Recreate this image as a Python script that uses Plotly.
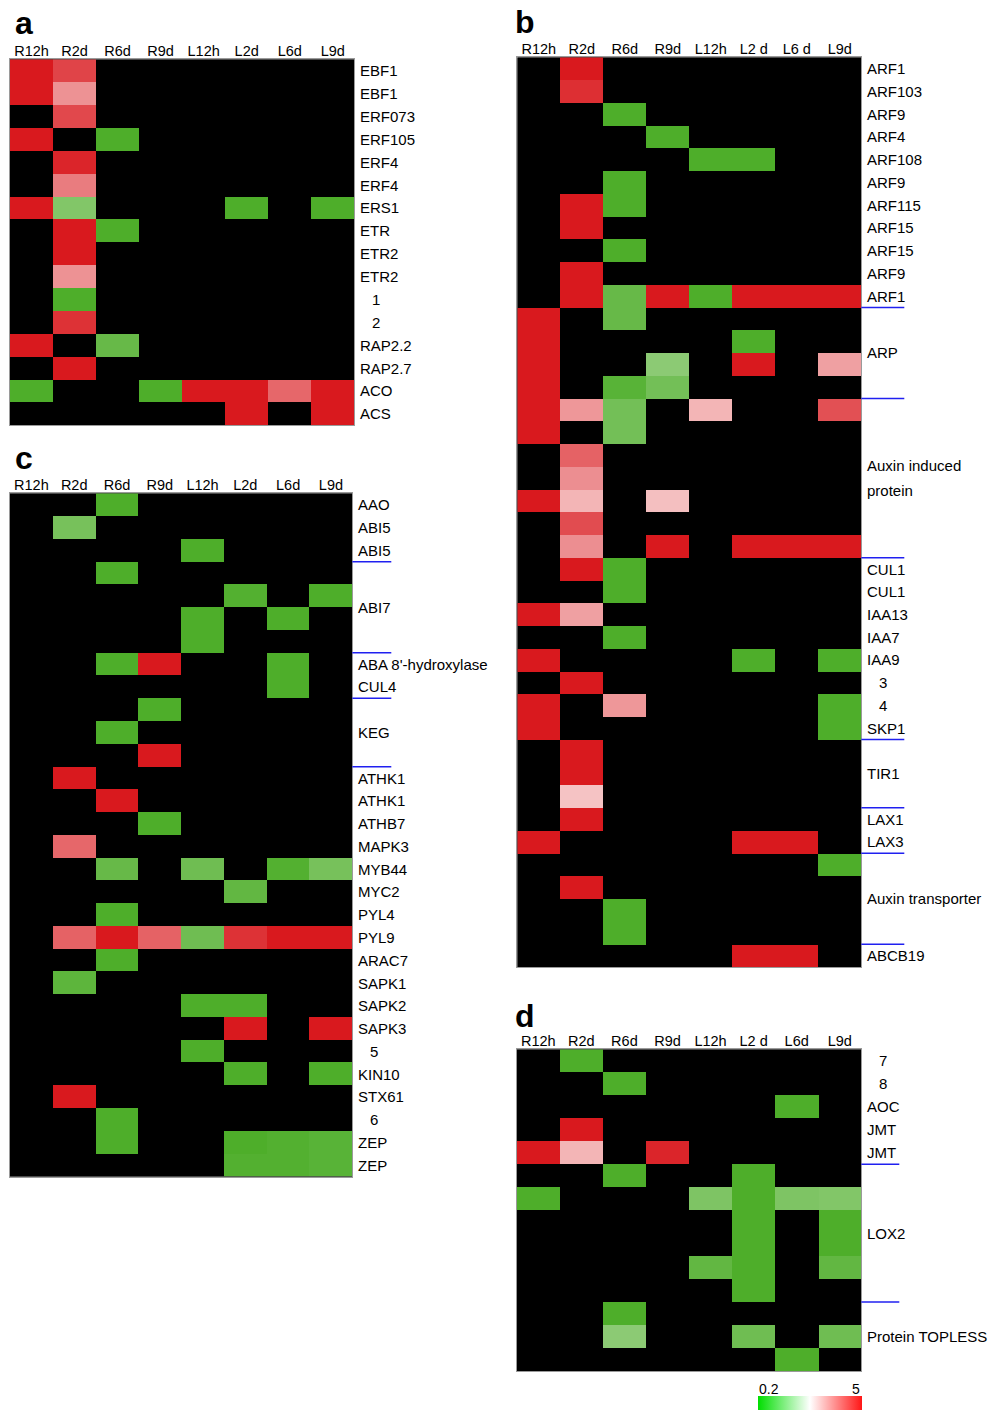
import numpy as np
import plotly.graph_objects as go

N = None  # not significantly changed (drawn black)

time_points = ["R12h", "R2d", "R6d", "R9d", "L12h", "L2d", "L6d", "L9d"]

# ---- a: ethylene pathway ----
a_ticks = ["R12h", "R2d", "R6d", "R9d", "L12h", "L2d", "L6d", "L9d"]
a_genes = ["EBF1", "EBF1", "ERF073", "ERF105", "ERF4", "ERF4", "ERS1", "ETR",
           "ETR2", "ETR2", "1", "2", "RAP2.2", "RAP2.7", "ACO", "ACS"]
a_fold = [
    [5, 3.7, N, N, N, N, N, N],
    [5, 2.15, N, N, N, N, N, N],
    [N, 3.6, N, N, N, N, N, N],
    [5, N, 0.2, N, N, N, N, N],
    [N, 4.6, N, N, N, N, N, N],
    [N, 2.5, N, N, N, N, N, N],
    [5, 0.32, N, N, N, 0.2, N, 0.2],
    [N, 5, 0.2, N, N, N, N, N],
    [N, 5, N, N, N, N, N, N],
    [N, 2.15, N, N, N, N, N, N],
    [N, 0.2, N, N, N, N, N, N],
    [N, 4.2, N, N, N, N, N, N],
    [5, N, 0.25, N, N, N, N, N],
    [N, 5, N, N, N, N, N, N],
    [0.2, N, N, 0.2, 5, 5, 2.9, 5],
    [N, N, N, N, N, 5, N, 5],
]
a_groups = []

# ---- b: auxin pathway ----
b_ticks = ["R12h", "R2d", "R6d", "R9d", "L12h", "L2 d", "L6 d", "L9d"]
b_genes = ["ARF1", "ARF103", "ARF9", "ARF4", "ARF108", "ARF9", "ARF115", "ARF15",
           "ARF15", "ARF9", "ARF1", "", "", "", "", "", "", "", "", "", "", "",
           "CUL1", "CUL1", "IAA13", "IAA7", "IAA9", "3", "4", "SKP1", "", "", "",
           "LAX1", "LAX3", "", "", "", "", "ABCB19"]
b_fold = [
    [N, 5, N, N, N, N, N, N],
    [N, 4.3, N, N, N, N, N, N],
    [N, N, 0.2, N, N, N, N, N],
    [N, N, N, 0.2, N, N, N, N],
    [N, N, N, N, 0.2, 0.2, N, N],
    [N, N, 0.2, N, N, N, N, N],
    [N, 5, 0.2, N, N, N, N, N],
    [N, 5, N, N, N, N, N, N],
    [N, N, 0.2, N, N, N, N, N],
    [N, 5, N, N, N, N, N, N],
    [N, 5, 0.25, 5, 0.2, 5, 5, 5],
    [5, N, 0.25, N, N, N, N, N],
    [5, N, N, N, N, 0.2, N, N],
    [5, N, N, 0.35, N, 5, N, 1.94],
    [5, N, 0.22, 0.28, N, N, N, N],
    [5, 2.07, 0.28, N, 1.68, N, N, 3.4],
    [5, N, 0.28, N, N, N, N, N],
    [N, 3.0, N, N, N, N, N, N],
    [N, 2.2, N, N, N, N, N, N],
    [5, 1.68, N, 1.57, N, N, N, N],
    [N, 3.5, N, N, N, N, N, N],
    [N, 2.2, N, 5, N, 5, 5, 5],
    [N, 5, 0.2, N, N, N, N, N],
    [N, N, 0.2, N, N, N, N, N],
    [5, 1.94, N, N, N, N, N, N],
    [N, N, 0.2, N, N, N, N, N],
    [5, N, N, N, N, 0.2, N, 0.2],
    [N, 5, N, N, N, N, N, N],
    [5, N, 2.07, N, N, N, N, 0.2],
    [5, N, N, N, N, N, N, 0.2],
    [N, 5, N, N, N, N, N, N],
    [N, 5, N, N, N, N, N, N],
    [N, 1.52, N, N, N, N, N, N],
    [N, 5, N, N, N, N, N, N],
    [5, N, N, N, N, 5, 5, N],
    [N, N, N, N, N, N, N, 0.2],
    [N, 5, N, N, N, N, N, N],
    [N, N, 0.2, N, N, N, N, N],
    [N, N, 0.2, N, N, N, N, N],
    [N, N, N, N, N, 5, 5, N],
]
# (label lines, first row, last row)
b_groups = [
    (["ARP"], 11, 14),
    (["Auxin induced", "protein"], 15, 21),
    (["TIR1"], 30, 32),
    (["Auxin transporter"], 35, 38),
]

# ---- c: abscisic acid pathway ----
c_ticks = ["R12h", "R2d", "R6d", "R9d", "L12h", "L2d", "L6d", "L9d"]
c_genes = ["AAO", "ABI5", "ABI5", "", "", "", "", "ABA 8'-hydroxylase", "CUL4",
           "", "", "", "ATHK1", "ATHK1", "ATHB7", "MAPK3", "MYB44", "MYC2",
           "PYL4", "PYL9", "ARAC7", "SAPK1", "SAPK2", "SAPK3", "5", "KIN10",
           "STX61", "6", "ZEP", "ZEP"]
c_fold = [
    [N, N, 0.2, N, N, N, N, N],
    [N, 0.29, N, N, N, N, N, N],
    [N, N, N, N, 0.2, N, N, N],
    [N, N, 0.2, N, N, N, N, N],
    [N, N, N, N, N, 0.21, N, 0.2],
    [N, N, N, N, 0.2, N, 0.2, N],
    [N, N, N, N, 0.2, N, N, N],
    [N, N, 0.2, 5, N, N, 0.2, N],
    [N, N, N, N, N, N, 0.2, N],
    [N, N, N, 0.2, N, N, N, N],
    [N, N, 0.2, N, N, N, N, N],
    [N, N, N, 5, N, N, N, N],
    [N, 5, N, N, N, N, N, N],
    [N, N, 5, N, N, N, N, N],
    [N, N, N, 0.2, N, N, N, N],
    [N, 2.9, N, N, N, N, N, N],
    [N, N, 0.25, N, 0.27, N, 0.21, 0.29],
    [N, N, N, N, N, 0.24, N, N],
    [N, N, 0.2, N, N, N, N, N],
    [N, 3.0, 5, 3.0, 0.27, 4.2, 5, 5],
    [N, N, 0.2, N, N, N, N, N],
    [N, 0.23, N, N, N, N, N, N],
    [N, N, N, N, 0.2, 0.2, N, N],
    [N, N, N, N, N, 5, N, 5],
    [N, N, N, N, 0.2, N, N, N],
    [N, N, N, N, N, 0.2, N, 0.2],
    [N, 5, N, N, N, N, N, N],
    [N, N, 0.2, N, N, N, N, N],
    [N, N, 0.2, N, N, 0.2, 0.21, 0.22],
    [N, N, N, N, N, 0.21, 0.21, 0.22],
]
c_groups = [
    (["ABI7"], 3, 6),
    (["KEG"], 9, 11),
]

# ---- d: jasmonic acid pathway ----
d_ticks = ["R12h", "R2d", "R6d", "R9d", "L12h", "L2 d", "L6d", "L9d"]
d_genes = ["7", "8", "AOC", "JMT", "JMT", "", "", "", "", "", "", "", "", ""]
d_fold = [
    [N, 0.2, N, N, N, N, N, N],
    [N, N, 0.2, N, N, N, N, N],
    [N, N, N, N, N, N, 0.2, N],
    [N, 5, N, N, N, N, N, N],
    [5, 1.68, N, 4.6, N, N, N, N],
    [N, N, 0.2, N, N, 0.2, N, N],
    [0.2, N, N, N, 0.31, 0.2, 0.31, 0.32],
    [N, N, N, N, N, 0.2, N, 0.2],
    [N, N, N, N, N, 0.2, N, 0.2],
    [N, N, N, N, 0.24, 0.2, N, 0.24],
    [N, N, N, N, N, 0.2, N, N],
    [N, N, 0.2, N, N, N, N, N],
    [N, N, 0.35, N, N, 0.27, N, 0.27],
    [N, N, N, N, N, N, 0.2, N],
]
d_groups = [
    (["LOX2"], 5, 10),
    (["Protein TOPLESS"], 11, 13),
]

# colour key range (fold change)
key_min, key_max = 0.2, 5

# ---- layout of the four panels (pixel boxes: left, top, right, bottom) ----
W, H = 990, 1410
FONT = "Liberation Sans, Arial, sans-serif"
ROW_FONT = 15
COL_FONT = 14.5
panels = [
    dict(tag="a", genes=a_genes, fold=a_fold, ticks=a_ticks, groups=a_groups,
         box=(10, 59.3, 354.3, 425.3), rule_px=0, letter=(13, 23)),
    dict(tag="b", genes=b_genes, fold=b_fold, ticks=b_ticks, groups=b_groups,
         box=(517.3, 57.3, 861.3, 967), rule_px=43, letter=(513, 22)),
    dict(tag="c", genes=c_genes, fold=c_fold, ticks=c_ticks, groups=c_groups,
         box=(10, 493.3, 352.3, 1176.7), rule_px=39, letter=(13, 457.6)),
    dict(tag="d", genes=d_genes, fold=d_fold, ticks=d_ticks, groups=d_groups,
         box=(516.7, 1049.3, 861.3, 1371), rule_px=38, letter=(513, 1016)),
]

# cells use a muted green/white/red ramp; the key strip uses the vivid one
cell_scale = [[0.0, "rgb(78,174,42)"], [0.5, "rgb(255,255,255)"], [1.0, "rgb(217,25,30)"]]
key_scale = [[0.0, "rgb(0,222,0)"], [0.5, "rgb(255,255,255)"], [1.0, "rgb(255,22,22)"]]
ZMIN, ZMAX = float(np.log(key_min)), float(np.log(key_max))

fig = go.Figure()
layout = {}
annotations = []
shapes = []

for i, p in enumerate(panels, start=1):
    sfx = "" if i == 1 else str(i)
    xa, ya = "x" + sfx, "y" + sfx
    n = len(p["genes"])
    z = [[None if v is None else float(np.log(v)) for v in row] for row in p["fold"]]
    fig.add_trace(go.Heatmap(
        z=z, x=list(range(len(time_points))), y=list(range(n)),
        customdata=p["fold"],
        xaxis=xa, yaxis=ya,
        colorscale=cell_scale, zmin=ZMIN, zmax=ZMAX,
        showscale=False,
        hovertemplate="%{customdata}<extra></extra>",
    ))

    left, top, right, bottom = p["box"]
    layout["xaxis" + sfx] = dict(
        domain=[left / W, right / W], range=[-0.5, len(time_points) - 0.5],
        side="top", tickvals=list(range(len(time_points))), ticktext=p["ticks"],
        ticks="", ticklabelstandoff=-3, showgrid=False, zeroline=False,
        showline=True, mirror=True, linecolor="#9a9a9a", linewidth=1,
        anchor=ya, fixedrange=True,
        tickfont=dict(family=FONT, size=COL_FONT, color="black"),
    )
    layout["yaxis" + sfx] = dict(
        domain=[1 - bottom / H, 1 - top / H], range=[n - 0.5, -0.5],
        showticklabels=False, ticks="", showgrid=False, zeroline=False,
        showline=True, mirror=True, linecolor="#9a9a9a", linewidth=1,
        anchor=xa, fixedrange=True,
    )

    # gene names on the right of each row
    for r, g in enumerate(p["genes"]):
        if not g:
            continue
        annotations.append(dict(
            x=1, xref=xa + " domain", y=r, yref=ya, text=g, showarrow=False,
            xanchor="left", yanchor="middle", xshift=16 if g.isdigit() else 4,
            font=dict(family=FONT, size=ROW_FONT, color="black"),
        ))

    # group labels and the blue rules that bracket each group
    bounds = set()
    for lines, first, last in p["groups"]:
        centre = (first + last) / 2
        for k, line in enumerate(lines):
            off = (k - (len(lines) - 1) / 2) * 1.1
            annotations.append(dict(
                x=1, xref=xa + " domain", y=centre + off, yref=ya, text=line,
                showarrow=False, xanchor="left", yanchor="middle", xshift=4,
                font=dict(family=FONT, size=ROW_FONT, color="black"),
            ))
        bounds.update([first, last + 1])
    for b in sorted(bounds):
        if b <= 0 or b >= n:
            continue
        shapes.append(dict(
            type="line", xref=xa + " domain", yref=ya,
            x0=1, x1=1 + p["rule_px"] / (right - left), y0=b - 0.5, y1=b - 0.5,
            line=dict(color="#2020f0", width=1.5),
        ))

    # panel letter
    lx, ly = p["letter"]
    annotations.append(dict(
        x=lx / W, y=1 - ly / H, xref="paper", yref="paper",
        text="<b>%s</b>" % p["tag"], showarrow=False,
        xanchor="left", yanchor="middle",
        font=dict(family=FONT, size=32, color="black"),
    ))

# colour key: a marker-less trace that only carries the horizontal colour bar
fig.add_trace(go.Scatter(
    x=[None, None], y=[None, None], mode="markers", xaxis="x4", yaxis="y4",
    hoverinfo="skip", showlegend=False,
    marker=dict(
        color=[ZMIN, ZMAX], cmin=ZMIN, cmax=ZMAX, colorscale=key_scale,
        showscale=True,
        colorbar=dict(
            orientation="h", x=(758 + 862) / 2 / W, xanchor="center",
            y=0, yanchor="bottom", len=104, lenmode="pixels",
            thickness=14, thicknessmode="pixels", xpad=0, ypad=0,
            outlinewidth=0, showticklabels=False, ticks="",
        ),
    ),
))

for txt, px in (("%g" % key_min, 769), ("%g" % key_max, 856)):
    annotations.append(dict(
        x=px / W, y=1 - 1389 / H, xref="paper", yref="paper", text=txt,
        showarrow=False, xanchor="center", yanchor="middle",
        font=dict(family=FONT, size=14, color="black"),
    ))

fig.update_layout(
    width=W, height=H, margin=dict(l=0, r=0, t=0, b=0),
    paper_bgcolor="white", plot_bgcolor="black",
    showlegend=False, annotations=annotations, shapes=shapes,
    **layout,
)

fig.write_html("out.html")
